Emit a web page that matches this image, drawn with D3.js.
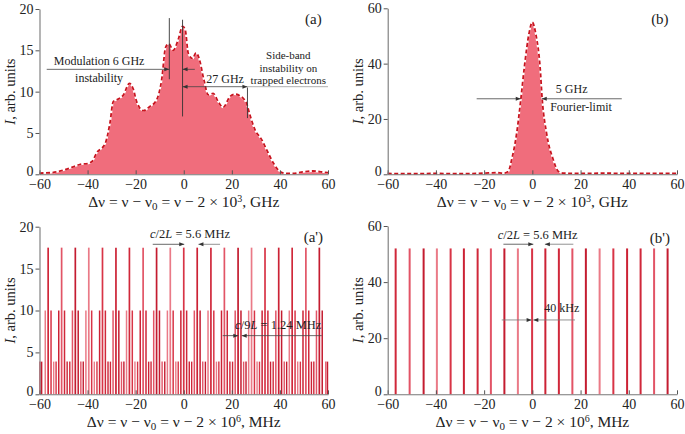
<!DOCTYPE html>
<html><head><meta charset="utf-8">
<script src="https://cdn.jsdelivr.net/npm/d3@7"></script>
<style>
body{margin:0;background:#fff}
svg{display:block;font-family:"Liberation Serif","Times New Roman",serif}
</style></head><body>
<svg id="c" width="685" height="434"></svg>
<script>
// ---------- data ----------
const xTicks = [-60, -40, -20, 0, 20, 40, 60];
const aTicksY = [0, 5, 10, 15, 20];
const bTicksY = [0, 20, 40, 60];

// panel (a): broadband spectrum, GHz
const aFreq = [-60,-55,-50,-46,-43,-40,-38,-36.2,-32.7,-30.7,-29.3,-27.2,-25.1,-22.6,-21,-19.6,-16.8,-14.1,-11.3,-9.2,-7.5,-6.2,-4.4,-2.3,-0.5,0.6,1.9,3.7,5.1,6.4,8.4,10.2,12.2,14.3,16.4,19.2,21.2,23.3,26.1,27.5,29.6,32.4,34.6,37.4,40.2,43,45.5,49.6,53.8,57,60];
const aInt  = [0.15,0.2,0.5,0.9,1.2,1.3,1.6,2.6,3.7,6.2,8.8,9.1,9.6,11.0,10.3,8.8,7.7,8.2,9.0,11.4,15.4,15.8,15.0,16.3,17.9,17.5,14.6,14.0,14.7,14.0,11.4,9.6,9.8,8.8,8.1,9.4,9.7,9.5,8.6,7.2,5.4,4.2,2.9,1.3,0.3,0.1,0.1,0.3,0.4,0.3,0.2];

// panel (b): Fourier-limited spectrum, GHz
const bFreq = [-60,-50,-40,-30,-20,-15,-12,-10,-8.6,-6.5,-4.8,-3.3,-1.4,0,1.4,3.2,4.1,5.9,8.7,10.8,13,20,30,40,50,60];
const bInt  = [0.3,0.2,0.3,0.2,0.4,0.6,0.4,1.0,5.2,14.8,26.9,38.8,50.8,55,50.8,38.8,26.9,14.8,5.2,1.0,0.4,0.3,0.4,0.3,0.3,0.3];

// panel (a'): mode comb, MHz
const apMainPos = [-56.4,-50.8,-45.1,-39.5,-33.8,-28.2,-22.6,-16.9,-11.3,-5.6,0,5.6,11.3,16.9,22.6,28.2,33.8,39.5,45.1,50.8,56.4];
const apSidePos = [-57.6,-55.2,-52.0,-49.6,-46.3,-43.9,-40.7,-38.3,-35.0,-32.6,-29.4,-27.0,-23.8,-21.4,-18.1,-15.7,-12.5,-10.1,-6.8,-4.4,-1.2,1.2,4.4,6.8,10.1,12.5,15.7,18.1,21.4,23.8,27.0,29.4,32.6,35.0,38.3,40.7,43.9,46.3,49.6,52.0,55.2,57.6];
const apLowPos  = [-59.8,-59.1,-54.1,-53.1,-48.5,-47.4,-42.8,-41.8,-37.2,-36.1,-31.5,-30.5,-25.9,-24.9,-20.3,-19.2,-14.6,-13.6,-9.0,-7.9,-3.3,-2.3,2.3,3.3,7.9,9.0,13.6,14.6,19.2,20.3,24.9,25.9,30.5,31.5,36.1,37.2,41.8,42.8,47.4,48.5,53.1,54.1,59.1,59.8];
const apHeights = [17.5, 10, 3.9]; // main, side, low

// panel (b'): single-frequency comb, MHz
const bpPos = [-56.7,-50.9,-45.1,-39.6,-33.9,-28.4,-22.7,-17.2,-11.6,-6.0,-0.1,5.4,11.0,16.6,22.2,27.9,33.6,39.3,44.9,50.5,56.1];
const bpHeight = 52;

// ---------- drawing ----------
const svg = d3.select("#c");
const defs = svg.append("defs");
defs.append("marker").attr("id","arr").attr("viewBox","0 0 10 10")
  .attr("refX",10).attr("refY",5).attr("markerWidth",7).attr("markerHeight",5)
  .attr("markerUnits","userSpaceOnUse").attr("orient","auto-start-reverse")
  .append("path").attr("d","M0,1L10,5L0,9Z").attr("fill","#333");

const palette = ["#d0283a","#e25466","#c41c30","#ea7a87","#d83446","#cc2235"];
const fillCol = "#f06d7c";

function makePanel(o){
  const x = d3.scaleLinear().domain([-60,60]).range([o.left,o.right]);
  const y = d3.scaleLinear().domain([0,o.yMax]).range([o.bottom,o.top]);
  const g = svg.append("g");
  return {x, y, g, o};
}

function drawAxes(p){
  const {x,y,g,o} = p;
  const ax = g.append("g").attr("transform",`translate(0,${o.bottom})`)
    .call(d3.axisBottom(x).tickValues(xTicks).tickSizeInner(-4).tickSizeOuter(0));
  ax.selectAll("text").attr("y",15).attr("dy",0).attr("font-size",14).attr("fill","#222")
    .attr("font-family","Liberation Serif");
  const ay = g.append("g").attr("transform",`translate(${o.left},0)`)
    .call(d3.axisLeft(y).tickValues(o.yTicks).tickSizeInner(4).tickSizeOuter(0).tickPadding(2));
  ay.selectAll("text").attr("font-size",14).attr("fill","#222").attr("font-family","Liberation Serif")
    .attr("dy", d => d === 0 ? "0.12em" : "0.32em");
  [ax, ay].forEach(a => {
    a.select(".domain").attr("stroke","#777").attr("stroke-width",1.1);
    a.selectAll(".tick line").attr("stroke","#555");
  });
  // y label
  const cy = (o.top + o.bottom)/2;
  const yl = g.append("text").attr("transform",`translate(${o.left-25},${cy}) rotate(-90)`)
    .attr("text-anchor","middle").attr("font-size",14.5).attr("fill","#222");
  yl.append("tspan").attr("font-style","italic").text("I");
  yl.append("tspan").text(", arb. units");
  // x label
  const xt = g.append("text").attr("x",(o.left+o.right)/2).attr("y",o.bottom+32.5)
    .attr("text-anchor","middle").attr("font-size",15.5).attr("fill","#222");
  xt.append("tspan").text("Δν = ν − ν");
  xt.append("tspan").attr("font-size",11).attr("dy",3.5).text("0");
  xt.append("tspan").attr("dy",-3.5).text(" = ν − 2 × 10");
  xt.append("tspan").attr("font-size",10).attr("dy",-5).text(o.pow);
  xt.append("tspan").attr("dy",5).text(", " + o.unit);
}

function arrow(p, x1, x2, yv, opts={}){
  const l = p.g.append("line").attr("x1",p.x(x1)).attr("x2",p.x(x2))
    .attr("y1",p.y(yv)).attr("y2",p.y(yv))
    .attr("stroke",opts.color||"#444").attr("stroke-width",0.8)
    .attr("marker-end","url(#arr)");
  if (opts.both) l.attr("marker-start","url(#arr)");
  return l;
}
function hline(p, x1, x2, yv, color){
  p.g.append("line").attr("x1",p.x(x1)).attr("x2",p.x(x2))
    .attr("y1",p.y(yv)).attr("y2",p.y(yv)).attr("stroke",color||"#999").attr("stroke-width",0.8);
}
function vline(p, xv, y1, y2){
  p.g.append("line").attr("x1",p.x(xv)).attr("x2",p.x(xv))
    .attr("y1",p.y(y1)).attr("y2",p.y(y2)).attr("stroke","#333").attr("stroke-width",0.9);
}
function label(p, xv, yv, str, size, anchor){
  return p.g.append("text").attr("x",p.x(xv)).attr("y",p.y(yv))
    .attr("text-anchor",anchor||"middle").attr("font-size",size||12).attr("fill","#222").text(str);
}
function modeLabel(p, xv, yv, num, val){
  const t = p.g.append("text").attr("x",p.x(xv)).attr("y",p.y(yv))
    .attr("text-anchor","middle").attr("font-size",12.5).attr("fill","#222");
  t.append("tspan").attr("font-style","italic").text("c");
  t.append("tspan").text("/" + num);
  t.append("tspan").attr("font-style","italic").text("L");
  t.append("tspan").text(" = " + val + " MHz");
}

function areaPanel(p, xs, ys){
  const pts = xs.map((v,i)=>[v, ys[i]]);
  const area = d3.area().x(d=>p.x(d[0])).y0(p.y(0)).y1(d=>p.y(d[1])).curve(d3.curveMonotoneX);
  const line = d3.line().x(d=>p.x(d[0])).y(d=>p.y(d[1])).curve(d3.curveMonotoneX);
  p.g.append("path").datum(pts).attr("d",area).attr("fill",fillCol);
  p.g.append("path").datum(pts).attr("d",line).attr("fill","none").attr("stroke","#fff").attr("stroke-width",1.8);
  p.g.append("path").datum(pts).attr("d",line).attr("fill","none").attr("stroke","#c8141f")
    .attr("stroke-width",1.8).attr("stroke-dasharray","4,2.5");
}

function combLines(p, pos, h, width, offset){
  p.g.append("g").selectAll("line").data(pos).join("line")
    .attr("x1",d=>p.x(d)).attr("x2",d=>p.x(d))
    .attr("y1",p.y(0)).attr("y2",p.y(h))
    .attr("stroke",(d,i)=>palette[(i+offset)%palette.length])
    .attr("stroke-width",width);
}

// Panel (a)
const pA = makePanel({left:39.5,right:328,top:9,bottom:174.3,yMax:20,yTicks:aTicksY,pow:"3",unit:"GHz"});
areaPanel(pA, aFreq, aInt);
drawAxes(pA);
vline(pA, -6, 18.9, 11.5);
vline(pA, -0.5, 18.7, 7.0);
vline(pA, 26.5, 10.5, 6.8);
arrow(pA, -57, -6, 12.7);
arrow(pA, 4.6, -0.5, 12.7);
arrow(pA, -0.5, 26.5, 10.6, {both:true});
hline(pA, 26.5, 60, 10.6, "#999");
label(pA, -35.2, 13.2, "Modulation 6 GHz");
label(pA, -35.2, 11.2, "instability");
label(pA, 17.2, 11.0, "27 GHz");
label(pA, 43.5, 13.9, "Side-band", 11);
label(pA, 43.5, 12.4, "instability on", 11);
label(pA, 43.5, 10.9, "trapped electrons", 11);
label(pA, 53.9, 18.2, "(a)", 15);

// Panel (b)
const pB = makePanel({left:387.7,right:677,top:8.3,bottom:174.3,yMax:60,yTicks:bTicksY,pow:"3",unit:"GHz"});
areaPanel(pB, bFreq, bInt);
drawAxes(pB);
arrow(pB, -23.1, -4.8, 27.3);
arrow(pB, 37.1, 3.9, 27.3);
label(pB, 16.3, 29.5, "5 GHz");
label(pB, 20.2, 23.0, "Fourier-limit");
label(pB, 52.9, 54.4, "(b)", 15);

// Panel (a')
const pAp = makePanel({left:39.5,right:328,top:226.7,bottom:394.3,yMax:20,yTicks:aTicksY,pow:"6",unit:"MHz"});
combLines(pAp, apLowPos, apHeights[2], 1.4, 1);
combLines(pAp, apSidePos, apHeights[1], 1.5, 3);
combLines(pAp, apMainPos, apHeights[0], 1.7, 0);
drawAxes(pAp);
modeLabel(pAp, 2.6, 18.7, "2", "5.6");
arrow(pAp, -12.9, 0.2, 17.9);
arrow(pAp, 15.1, 6.1, 17.9, {color:"#777"});
label(pAp, 53.9, 18.2, "(a')", 15);
modeLabel(pAp, 39.3, 7.8, "9", "1.24");
arrow(pAp, 16.2, 22.7, 7.0);
arrow(pAp, 57.4, 24.1, 7.0);

// Panel (b')
const pBp = makePanel({left:387.7,right:677,top:226,bottom:394.3,yMax:60,yTicks:bTicksY,pow:"6",unit:"MHz"});
combLines(pBp, bpPos, bpHeight, 2, 0);
drawAxes(pBp);
modeLabel(pBp, 2.2, 55.4, "2", "5.6");
arrow(pBp, -12.0, 0.4, 53.5);
arrow(pBp, 17.0, 5.2, 53.5, {color:"#777"});
label(pBp, 52.9, 53.8, "(b')", 15);
label(pBp, 12.2, 29.2, "40 kHz");
arrow(pBp, -12.7, -0.3, 26.5, {color:"#777"});
arrow(pBp, 17.7, 0.4, 26.5, {color:"#777"});
</script>
</body></html>
